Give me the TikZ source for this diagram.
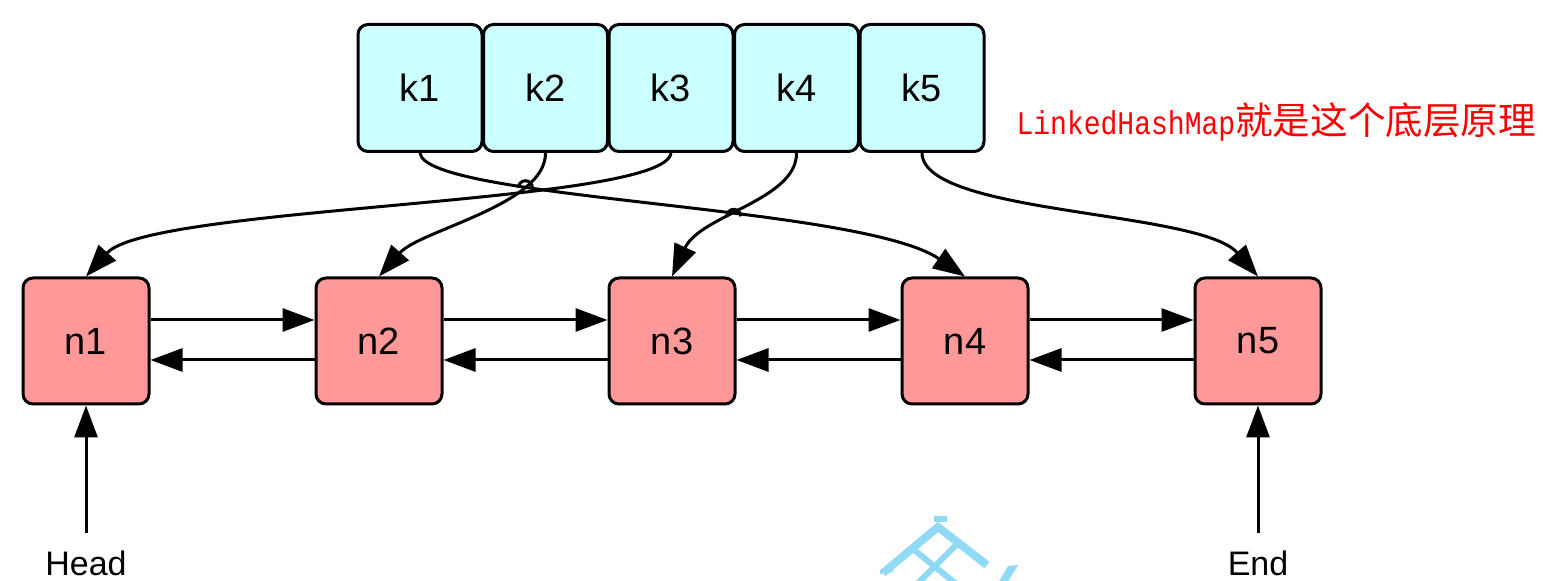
\documentclass[tikz,border=0pt]{standalone}
\usepackage{fontspec}
\setmainfont{Liberation Sans}
\newfontfamily\notemono[FakeStretch=0.85]{Liberation Mono}
\newfontfamily\cjk{Noto Sans CJK SC}
\usetikzlibrary{arrows.meta,positioning,intersections}
\definecolor{keycyan}{RGB}{204,255,255}
\definecolor{entryred}{RGB}{255,153,153}
\definecolor{markblue}{RGB}{145,218,246}

\begin{document}
\begin{tikzpicture}[x=0.5pt,y=-0.5pt,>={Triangle[length=16pt,width=11.5pt]},
  line width=1.5pt,
  key node/.style={draw,fill=keycyan,rounded corners=5pt,minimum width=62pt,
    minimum height=63.5pt,inner sep=0pt,font=\fontsize{19}{22}\selectfont},
  entry node/.style={draw,fill=entryred,rounded corners=5pt,minimum size=63pt,
    inner sep=0pt,font=\fontsize{19}{22}\selectfont},
  end label/.style={inner sep=0pt,font=\fontsize{17}{20}\selectfont}]

  \useasboundingbox (0,0) rectangle (1553,581);

  % hash table
  \node[key node] (k1) at (420,88) {k1};
  \node[key node] (k2) [right=-0.75pt of k1] {k2};
  \node[key node] (k3) [right=-0.75pt of k2] {k3};
  \node[key node] (k4) [right=-0.75pt of k3] {k4};
  \node[key node] (k5) [right=-0.75pt of k4] {k5};

  % linked entries
  \node[entry node] (n1) at (86,341) {n1};
  \node[entry node] (n2) [right=82pt of n1] {n2};
  \node[entry node] (n3) [right=82pt of n2] {n3};
  \node[entry node] (n4) [right=82pt of n3] {n4};
  \node[entry node] (n5) [right=82pt of n4] {n5};

  \node[end label] (head) at (86,563) {Head};
  \node[end label] (tail) at (1258,563) {End};

  \node[anchor=base west,inner sep=0pt,text=red] (note) at (1015,135)
    {\notemono\fontsize{16.5}{20}\selectfont LinkedHashMap{\cjk\fontsize{18.8}{22}\selectfont 就是这个底层原理}};

  % next / prev
  \foreach \a/\b in {n1/n2,n2/n3,n3/n4,n4/n5} {
    \draw[->] ([yshift=10.5pt]\a.east) -- ([yshift=10.5pt]\b.west);
    \draw[->] ([yshift=-9.5pt]\b.west) -- ([yshift=-9.5pt]\a.east);
  }

  \draw[->] ([yshift=8pt]head.north) -- (n1.south);
  \draw[->] ([yshift=8pt]tail.north) -- (n5.south);

  % buckets to entries
  \draw[->] (k3.south) .. controls (665,205) and (150,205) .. (n1.north);
  \draw[->,name path=ktwo] (k2.south) .. controls (546,205) and (420,230) .. (n2.north);
  \draw[->,name path=kone] (k1.south) .. controls (425,200) and (860,205) .. (n4.north);
  \draw[->,name path=kfour] (k4.south) .. controls (797,200) and (700,215) .. (n3.north);
  \draw[->] (k5.south) .. controls (923,215) and (1200,210) .. (n5.north);

  % line jumps
  \path[name intersections={of=kone and ktwo,name=ja}];
  \path[name intersections={of=kone and kfour,name=jb}];
  \draw ([xshift=-3.5pt]ja-1) arc (180:360:7);
  \draw ([xshift=-3.5pt]jb-1) arc (180:360:7);

  % watermark
  \begin{scope}
    \clip (0,0) rectangle (1553,581);
    \draw[markblue,line width=4pt] (883,573) -- (938,527) -- (987,565);
    \draw[markblue,line width=3pt] (913,549) -- (955,583);
    \draw[markblue,line width=3pt] (958,543) -- (918,583);
    \draw[markblue,line width=3pt] (934,519) -- (947,519);
    \draw[markblue,line width=2pt] (880,572) -- (893,570);
    \fill[markblue] (998,583) -- (1008,566) -- (1018,565) -- (1007,583) -- cycle;
  \end{scope}
\end{tikzpicture}
\end{document}
